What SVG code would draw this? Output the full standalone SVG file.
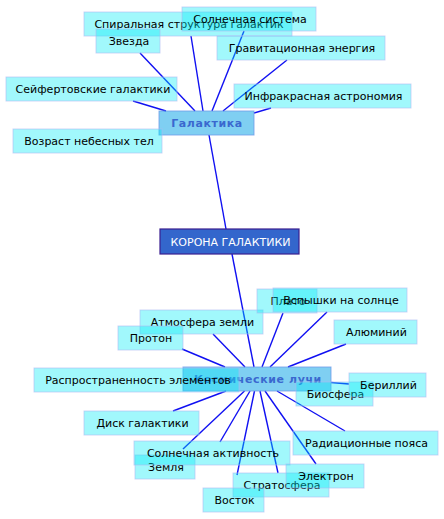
<svg xmlns="http://www.w3.org/2000/svg" width="444" height="519" viewBox="0 0 444 519">
<style>
text{font-family:"DejaVu Sans","Liberation Sans",sans-serif;font-size:11px;text-anchor:middle;fill:#000}
.n rect{fill:#00ecf7;fill-opacity:.37;stroke:#aebcf2;stroke-opacity:.6;stroke-width:1}
.m rect{fill:#00a0e6;fill-opacity:.5;stroke:#6f9be8;stroke-opacity:.8;stroke-width:1}
.m text{font-weight:bold;letter-spacing:0.6px;fill:#3a68cf}
.r rect{fill:#3366cc;stroke:#3a1e90;stroke-width:1.2}
.r text{fill:#fff}
#edges line{stroke:#1010f2;stroke-width:1.4}
</style>
<rect width="444" height="519" fill="#fff"/>
<g id="edges">
<line x1="203" y1="111" x2="191" y2="36"/>
<line x1="212" y1="111" x2="244" y2="31"/>
<line x1="195" y1="111" x2="140" y2="53"/>
<line x1="223" y1="111" x2="287" y2="60"/>
<line x1="254" y1="113" x2="271" y2="108"/>
<line x1="133" y1="101" x2="166" y2="111"/>
<line x1="209" y1="135" x2="226" y2="229"/>
<line x1="232" y1="254" x2="254" y2="367"/>
<line x1="182" y1="349" x2="225" y2="367"/>
<line x1="213" y1="334" x2="245" y2="367"/>
<line x1="262" y1="367" x2="283" y2="313"/>
<line x1="270" y1="367" x2="327" y2="312"/>
<line x1="288" y1="367" x2="346" y2="344"/>
<line x1="331" y1="382.5" x2="349" y2="384"/>
<line x1="226" y1="391" x2="173" y2="411"/>
<line x1="250" y1="391" x2="220" y2="442"/>
<line x1="244.5" y1="391" x2="183" y2="449"/>
<line x1="254.5" y1="391" x2="237" y2="475"/>
<line x1="260" y1="391" x2="278" y2="473"/>
<line x1="265" y1="391" x2="316" y2="464"/>
<line x1="277" y1="391" x2="345" y2="431"/>
</g>
<g id="n-galaktika" class="m"><rect x="159" y="111" width="95" height="24"/><text x="207" y="127">Галактика</text></g>
<g id="n-spiral" class="n"><rect x="84" y="12" width="208" height="24"/><text x="189" y="28">Спиральная структура галактик</text></g>
<g id="n-zvezda" class="n"><rect x="96" y="29" width="64" height="24"/><text x="129" y="45">Звезда</text></g>
<g id="n-solsys" class="n"><rect x="182" y="7" width="134" height="24"/><text x="250" y="23">Солнечная система</text></g>
<g id="n-grav" class="n"><rect x="217" y="36" width="168" height="24"/><text x="302" y="52">Гравитационная энергия</text></g>
<g id="n-seyfert" class="n"><rect x="6" y="77" width="171" height="24"/><text x="93" y="93">Сейфертовские галактики</text></g>
<g id="n-infra" class="n"><rect x="234" y="84" width="177" height="24"/><text x="323.5" y="100">Инфракрасная астрономия</text></g>
<g id="n-vozrast" class="n"><rect x="13" y="129" width="149" height="24"/><text x="89" y="145">Возраст небесных тел</text></g>
<g id="n-korona" class="r"><rect x="160" y="229" width="139" height="25"/><text x="230.5" y="246">КОРОНА ГАЛАКТИКИ</text></g>
<g id="n-kosm" class="m"><rect x="183" y="367" width="148" height="24"/><text x="258" y="383">Космические лучи</text></g>
<g id="n-atmos" class="n"><rect x="140" y="310" width="123" height="24"/><text x="202.5" y="326">Атмосфера земли</text></g>
<g id="n-proton" class="n"><rect x="118" y="326" width="65" height="24"/><text x="151" y="342">Протон</text></g>
<g id="n-plato" class="n"><rect x="257" y="289" width="60" height="24"/><text x="288" y="305">Плато</text></g>
<g id="n-vspyshki" class="n"><rect x="273" y="288" width="134" height="24"/><text x="341" y="304">Вспышки на солнце</text></g>
<g id="n-alum" class="n"><rect x="334" y="320" width="83" height="24"/><text x="376.5" y="336">Алюминий</text></g>
<g id="n-rasprostr" class="n"><rect x="34" y="368" width="205" height="24"/><text x="138" y="384">Распространенность элементов</text></g>
<g id="n-biosfera" class="n"><rect x="296" y="382" width="77" height="24"/><text x="335.5" y="398">Биосфера</text></g>
<g id="n-berill" class="n"><rect x="349" y="373" width="77" height="24"/><text x="388.5" y="389">Бериллий</text></g>
<g id="n-disk" class="n"><rect x="84" y="411" width="115" height="24"/><text x="142.5" y="427">Диск галактики</text></g>
<g id="n-zemlya" class="n"><rect x="135" y="455" width="60" height="24"/><text x="166" y="471">Земля</text></g>
<g id="n-solakt" class="n"><rect x="134" y="441" width="156" height="24"/><text x="213" y="457">Солнечная активность</text></g>
<g id="n-radiac" class="n"><rect x="293" y="431" width="145" height="24"/><text x="366.5" y="447">Радиационные пояса</text></g>
<g id="n-strato" class="n"><rect x="233" y="473" width="96" height="24"/><text x="282" y="489">Стратосфера</text></g>
<g id="n-vostok" class="n"><rect x="203" y="488" width="61" height="24"/><text x="234.5" y="504">Восток</text></g>
<g id="n-elektron" class="n"><rect x="286" y="464" width="78" height="24"/><text x="326" y="480">Электрон</text></g>
</svg>
